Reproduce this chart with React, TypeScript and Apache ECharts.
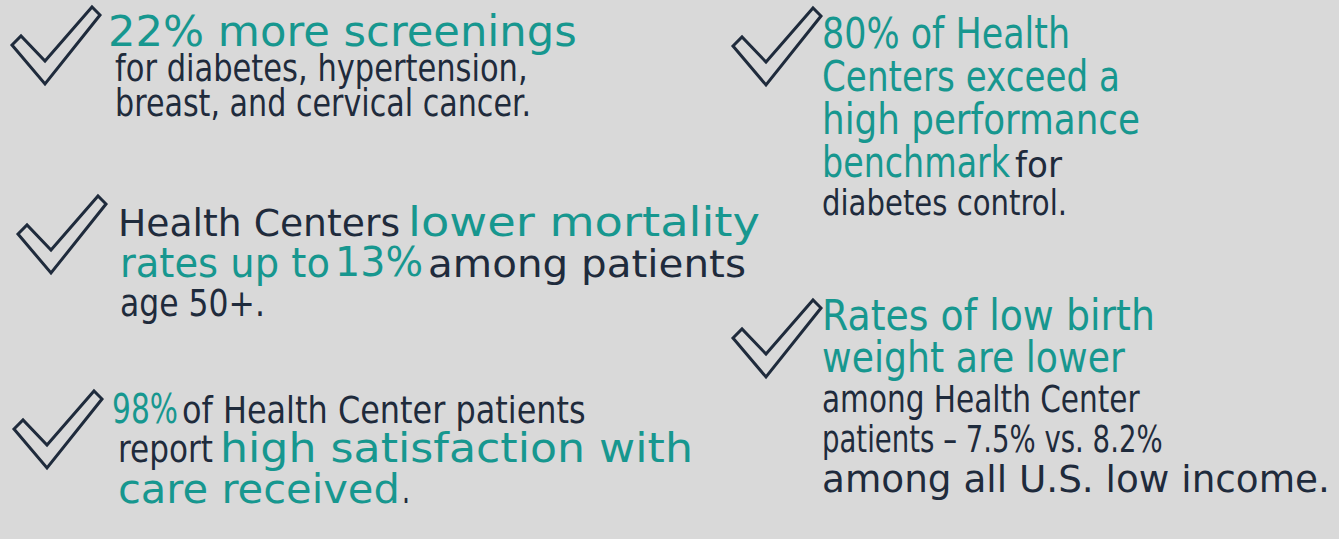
import React, { useEffect, useRef } from "react";
import * as echarts from "echarts";

const TEAL = "#17978f";
const NAVY = "#1f2b3c";
const BG = "#d9d9d9";
const FONT = "'DejaVu Sans'";

// ---- content (text segments per line: [text, colourKey]) ----
const screenings = [
  [["22% more screenings", "t"]],
  [["for diabetes, hypertension,", "d"]],
  [["breast, and cervical cancer.", "d"]],
];
const mortality = [
  [["Health Centers", "d"], ["lower mortality", "t"]],
  [["rates up to", "t"], ["13%", "t"], ["among patients", "d"]],
  [["age 50+.", "d"]],
];
const satisfaction = [
  [["98%", "t"], ["of Health Center patients", "d"]],
  [["report", "d"], ["high satisfaction with", "t"]],
  [["care received", "t"], [".", "d"]],
];
const benchmark = [
  [["80% of Health", "t"]],
  [["Centers exceed a", "t"]],
  [["high performance", "t"]],
  [["benchmark", "t"], ["for", "d"]],
  [["diabetes control.", "d"]],
];
const birthWeight = [
  [["Rates of low birth", "t"]],
  [["weight are lower", "t"]],
  [["among Health Center", "d"]],
  [["patients – 7.5% vs. 8.2%", "d"]],
  [["among all U.S. low income.", "d"]],
];

// ---- layout: per line [baseline, [[x0, x1, fontSize], ...per segment]] ----
const screeningsLayout = [
  [46, [[108, 577, 43]]],
  [81, [[115, 528, 37]]],
  [116, [[115, 531, 37]]],
];
const mortalityLayout = [
  [236, [[118, 400, 37], [408, 760, 41]]],
  [277, [[120, 330, 41], [335, 423, 41], [428, 746, 37]]],
  [316, [[120, 265, 37]]],
];
const satisfactionLayout = [
  [423, [[112, 178, 41], [182, 586, 37]]],
  [462, [[118, 213, 37], [220, 693, 41]]],
  [503, [[118, 400, 41], [402, 410, 41]]],
];
const benchmarkLayout = [
  [48, [[822, 1070, 43]]],
  [91, [[822, 1120, 43]]],
  [134, [[822, 1140, 43]]],
  [177, [[822, 1010, 43], [1015, 1062, 35]]],
  [215, [[822, 1067, 35]]],
];
const birthWeightLayout = [
  [330, [[822, 1155, 43]]],
  [372, [[822, 1125, 43]]],
  [412, [[822, 1140, 37]]],
  [452, [[822, 1163, 37]]],
  [492, [[822, 1330, 37]]],
];

// check mark positions (top-left of the mark)
const checkPositions = [
  [12, 7],
  [18, 196],
  [14, 391],
  [733, 8],
  [733, 300],
];
// check mark outline in local coordinates
const checkShape = [
  [0, 38],
  [9, 29],
  [33, 54],
  [80, 0],
  [88, 8],
  [33, 77],
];

export default function App() {
  const ref = useRef<HTMLDivElement>(null);

  useEffect(() => {
    document.body.style.margin = "0";
    const el = ref.current!;
    const chart = echarts.init(el, null, { renderer: "svg" });

    const canvas = document.createElement("canvas");
    const ctx = canvas.getContext("2d")!;
    const measure = (text: string, size: number) => {
      ctx.font = `${size}px ${FONT}`;
      return ctx.measureText(text).width || 1;
    };

    const elements: any[] = [];

    const addBlock = (content: any[], layout: any[]) => {
      content.forEach((line: any[], li: number) => {
        const [baseline, segs] = layout[li];
        line.forEach((seg: any[], si: number) => {
          const [text, key] = seg;
          const [x0, x1, size] = segs[si];
          const w = measure(text, size);
          const sx = (x1 - x0) / w;
          elements.push({
            type: "text",
            x: x0,
            y: baseline - size * 0.35,
            scaleX: sx,
            silent: true,
            style: {
              text,
              fill: key === "t" ? TEAL : NAVY,
              font: `${size}px ${FONT}`,
              align: "left",
              verticalAlign: "middle",
            },
          });
        });
      });
    };

    addBlock(screenings, screeningsLayout);
    addBlock(mortality, mortalityLayout);
    addBlock(satisfaction, satisfactionLayout);
    addBlock(benchmark, benchmarkLayout);
    addBlock(birthWeight, birthWeightLayout);

    checkPositions.forEach(([cx, cy]) => {
      elements.push({
        type: "polygon",
        x: cx,
        y: cy,
        silent: true,
        shape: { points: checkShape },
        style: { fill: "none", stroke: NAVY, lineWidth: 3, lineJoin: "miter" },
      });
    });

    chart.setOption({
      animation: false,
      backgroundColor: BG,
      graphic: { elements },
    });

    return () => chart.dispose();
  }, []);

  return <div ref={ref} style={{ width: 1339, height: 539, background: BG }} />;
}
